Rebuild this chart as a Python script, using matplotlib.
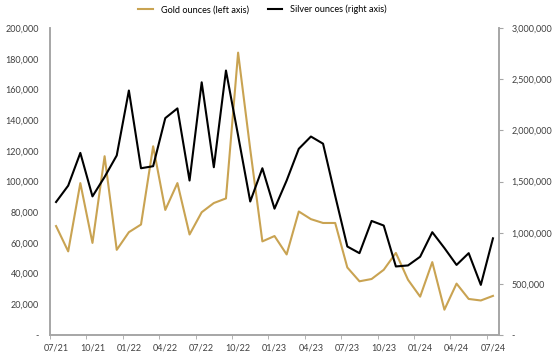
import numpy as np
import matplotlib.pyplot as plt
from matplotlib.ticker import FuncFormatter, FixedLocator

plt.rcParams['font.family'] = ['Lato', 'DejaVu Sans']

# Monthly data 07/21 .. 07/24
months = ['07/21', '08/21', '09/21', '10/21', '11/21', '12/21',
          '01/22', '02/22', '03/22', '04/22', '05/22', '06/22',
          '07/22', '08/22', '09/22', '10/22', '11/22', '12/22',
          '01/23', '02/23', '03/23', '04/23', '05/23', '06/23',
          '07/23', '08/23', '09/23', '10/23', '11/23', '12/23',
          '01/24', '02/24', '03/24', '04/24', '05/24', '06/24',
          '07/24']

gold_oz = [71000, 54500, 99000, 60000, 116500, 55500,
           67000, 72000, 123000, 81500, 99000, 65500,
           80000, 86000, 89000, 184000, 121000, 61000,
           64500, 52500, 80500, 75500, 73000, 73000,
           44000, 35000, 36500, 42500, 53500, 36000,
           25000, 47500, 16500, 33500, 23500, 22500,
           25500]

silver_oz = [1300000, 1460000, 1780000, 1355000, 1545000, 1755000,
             2390000, 1630000, 1650000, 2120000, 2215000, 1510000,
             2470000, 1640000, 2585000, 1950000, 1305000, 1630000,
             1235000, 1510000, 1820000, 1940000, 1870000, 1360000,
             865000, 800000, 1115000, 1070000, 670000, 680000,
             765000, 1005000, 850000, 685000, 800000, 490000,
             945000]

gold_col = '#c9a352'
axis_col = '#a6a6a6'

x = np.arange(len(months))

fig = plt.figure(figsize=(5.53, 3.6), dpi=100)
ax = fig.add_axes([0.0904, 0.0694, 0.812, 0.8526])
ax2 = ax.twinx()

l1, = ax.plot(x, gold_oz, color=gold_col, lw=1.5, label='Gold ounces (left axis)')
l2, = ax2.plot(x, silver_oz, color='black', lw=1.5, label='Silver ounces (right axis)')

ax.set_xlim(-0.5, len(months) - 0.5)
ax.set_ylim(0, 200000)
ax2.set_ylim(0, 3000000)
ax.set_yticks(np.arange(0, 200001, 20000))
ax2.set_yticks(np.arange(0, 3000001, 500000))

fmt = FuncFormatter(lambda v, p: '-' if v == 0 else f'{int(v):,}')
ax.yaxis.set_major_formatter(fmt)
ax2.yaxis.set_major_formatter(fmt)

# labels every quarter, ticks between categories
ax.xaxis.set_major_locator(FixedLocator(x[::3]))
ax.set_xticklabels(months[::3])
ax.xaxis.set_minor_locator(FixedLocator(np.arange(-0.5, len(months), 3)))
ax.tick_params(axis='x', which='major', length=0, labelsize=6.5, pad=6, colors='#404040')
ax.tick_params(axis='x', which='minor', length=3, color=axis_col)
ax.tick_params(axis='y', length=0, labelsize=6.5, pad=8, colors='#404040')
ax2.tick_params(axis='y', length=3, color=axis_col, labelsize=6.5, pad=6, labelcolor='#404040')

for a in (ax, ax2):
    a.spines['top'].set_visible(False)
    for s in ('left', 'right', 'bottom'):
        a.spines[s].set_color(axis_col)
        a.spines[s].set_linewidth(1.2)

fig.legend(handles=[l1, l2], loc='upper center', bbox_to_anchor=(0.475, 1.01),
           ncol=2, frameon=False, fontsize=6.6, handlelength=1.6,
           columnspacing=2.0, handletextpad=0.9)

fig.savefig('out.png', dpi=100)
